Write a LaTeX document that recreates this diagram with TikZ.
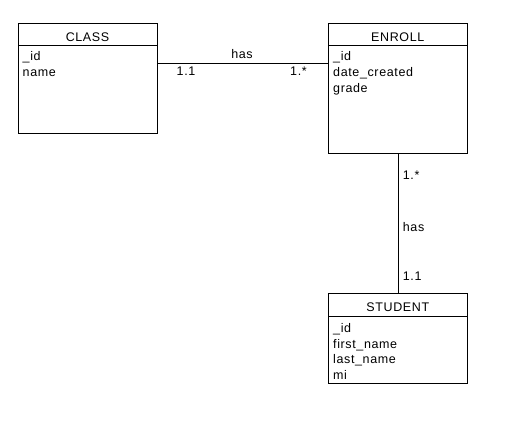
\documentclass[tikz,border=0pt]{standalone}
\usepackage{fontspec}
\setmainfont{Liberation Sans}[LetterSpace=5]
\begin{document}
\begin{tikzpicture}[x=1pt,y=-1pt,
  entbox/.style={draw, line width=1pt, anchor=north west, inner sep=0pt, minimum width=139pt},
  ttl/.style={anchor=base, inner sep=0pt, font=\fontsize{12.5}{15}\selectfont},
  attr/.style={anchor=base west, inner sep=0pt, font=\fontsize{12.5}{15}\selectfont},
  lbl/.style={anchor=base west, inner sep=0pt, font=\fontsize{12.5}{15}\selectfont},
  conn/.style={line width=1pt},
  divl/.style={line width=1pt}]
\useasboundingbox (0,0) rectangle (519,421);
% boxes
\node[entbox, minimum height=110pt] (class) at (18,22.7) {};
\node[entbox, minimum height=130pt] (enroll) at (328.3,22.7) {};
\node[entbox, minimum height=90.6pt] (student) at (328.3,292.7) {};
% dividers
\draw[divl] ([yshift=-23pt]class.north west) -- ([yshift=-23pt]class.north east);
\draw[divl] ([yshift=-23pt]enroll.north west) -- ([yshift=-23pt]enroll.north east);
\draw[divl] ([yshift=-24pt]student.north west) -- ([yshift=-24pt]student.north east);
% titles
\node[ttl] (classT) at (87.5,41) {CLASS};
\node[ttl] (enrollT) at (397.8,41) {ENROLL};
\node[ttl] (studentT) at (397.8,311.7) {STUDENT};
% attributes
\node[attr] (c1) at (22.5,60.7) {\_id};
\node[attr] (c2) at (22.5,76.3) {name};
\node[attr] (e1) at (333,60.7) {\_id};
\node[attr] (e2) at (333,76.3) {date\_created};
\node[attr] (e3) at (333,92) {grade};
\node[attr] (s1) at (333,332.3) {\_id};
\node[attr] (s2) at (333,348) {first\_name};
\node[attr] (s3) at (333,363.5) {last\_name};
\node[attr] (s4) at (333,379.3) {mi};
% connectors
\draw[conn] ([yshift=-40.6pt]class.north east) -- ([yshift=-40.6pt]enroll.north west);
\draw[conn] ([xshift=0.5pt]enroll.south) -- ([xshift=0.5pt]student.north);
% labels
\node[anchor=base, inner sep=0pt, font=\fontsize{12.5}{15}\selectfont] (has1) at (242,58.3) {has};
\node[lbl] (m1) at (176.5,75.7) {1.1};
\node[lbl] (m2) at (290,75.7) {1.*};
\node[lbl] (m3) at (402.7,179.3) {1.*};
\node[lbl] (has2) at (402.7,231) {has};
\node[lbl] (m4) at (402.7,280) {1.1};
\end{tikzpicture}
\end{document}
